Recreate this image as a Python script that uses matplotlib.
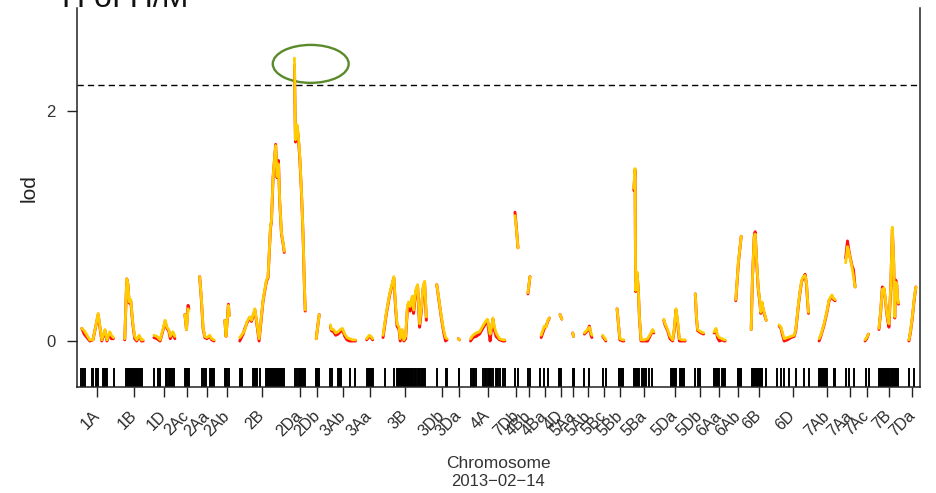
import numpy as np
import matplotlib
matplotlib.use("Agg")
import matplotlib.pyplot as plt
from matplotlib.patches import Ellipse
from matplotlib.transforms import blended_transform_factory

plt.rcParams['font.family'] = ['Liberation Sans', 'DejaVu Sans']

# ---- genome layout (cM) ----
chromosomes = ["1A", "1B", "1D", "2Ac", "2Aa", "2Ab", "2B", "2Da", "2Db", "3Ab",
               "3Aa", "3B", "3Db", "3Da", "4A", "7Db", "4Bb", "4Ba", "4D", "5Aa",
               "5Ab", "5Bc", "5Bb", "5Ba", "5Da", "5Db", "6Aa", "6Ab", "6B", "6D",
               "7Ab", "7Aa", "7Ac", "7B", "7Da"]
chrom_lengths = [82.5, 50, 52.5, 10, 40, 11.25, 112.5, 27.5, 10, 68.75,
                 15, 110, 26.25, 8.75, 86.25, 7.5, 5, 23.75, 6.25, 6.25,
                 18.75, 10, 20, 50, 53.75, 21.25, 28.75, 15, 37.5, 82.5,
                 40, 25, 8.75, 50, 18.75]
chrom_gap = 25.0
lod_threshold = 2.23

# ---- scan positions (cM within chromosome) ----
scan_pos = [
    [2, 8, 22, 30, 43, 52, 60, 65, 72, 76, 81],
    [2, 7, 10, 13, 17, 22, 27, 32, 38, 44, 48],
    [0, 7.5, 15.5, 22.5, 28, 32.5, 37, 41, 47.5, 52.5],
    [0, 4, 8, 10],
    [2, 6.5, 10.5, 15, 20, 27, 32, 38],
    [0, 3, 9, 11],
    [1, 9.5, 14, 19.5, 26, 30.5, 39, 43, 49.5, 59.5, 68, 72, 78, 80.5, 84.5, 91, 94.5, 98, 101, 105.5, 110, 112.5],
    [0.5, 3, 7, 10, 14, 18, 22, 25.5, 27.5],
    [2.5, 10],
    [3, 5.5, 11, 16, 22, 28, 33, 39, 44.5, 51, 59.5, 66],
    [0, 6.5, 11, 15],
    [1, 9, 17.5, 28, 32.5, 36, 41, 44, 49, 53, 57.5, 62, 65, 69, 74, 77.5, 82.5, 87.5, 92.5, 97.5, 101, 105, 109.5],
    [0.5, 6, 12, 17.5, 22.5, 26],
    [3, 6],
    [0, 6, 14, 22.5, 29, 37.5, 42.5, 46, 49, 52.5, 56, 60, 64, 72.5, 81, 86],
    [0, 3.5, 7.5],
    [0, 5],
    [3, 7, 11, 15.5, 19.5, 23.5],
    [1.5, 6],
    [2, 4],
    [0, 8, 12.5, 16.5, 18.75],
    [2, 10],
    [3, 10, 17, 20],
    [0, 3, 4.5, 8, 11, 14, 18, 26, 34.5, 43, 47, 50],
    [0, 3, 9.5, 15.5, 22, 26, 30.5, 34.5, 39, 45.5, 53.5],
    [0, 3, 6, 14, 21],
    [1, 5.5, 9.5, 14, 20.5, 26, 28.5],
    [1.5, 8, 15],
    [0, 3, 7.5, 10, 13, 17.5, 22, 24, 27, 30, 34, 37.5],
    [7.5, 12, 16, 20, 28, 37, 45, 49, 56, 60, 64, 68, 72.5, 76, 79, 81],
    [0, 4, 12.5, 19, 25, 32, 36, 40],
    [1.5, 6, 8, 12, 17, 21, 25],
    [0, 4, 8.5],
    [1, 5.5, 9.5, 14, 18, 22, 26, 30.5, 34.5, 38, 40.5, 43, 45.5, 48, 50],
    [1, 5.5, 9.5, 14, 18.5],
]

# ---- LOD, Haley-Knott regression (gold) ----
lod_hk = [
    [0.11, 0.09, 0.01, 0.01, 0.24, 0.01, 0.10, 0.01, 0.08, 0.05, 0.03],
    [0.02, 0.54, 0.50, 0.34, 0.36, 0.16, 0.04, 0.01, 0.05, 0.01, 0.01],
    [0.05, 0.04, 0.01, 0.10, 0.18, 0.12, 0.10, 0.04, 0.08, 0.04],
    [0.23, 0.10, 0.28, 0.27],
    [0.56, 0.36, 0.12, 0.04, 0.03, 0.05, 0.02, 0.01],
    [0.18, 0.04, 0.31, 0.22],
    [0.03, 0.07, 0.10, 0.17, 0.21, 0.18, 0.28, 0.18, 0.02, 0.36, 0.53, 0.56, 0.99, 1.05, 1.43, 1.70, 1.43, 1.54, 1.23, 0.94, 0.85, 0.78],
    [2.46, 1.75, 1.88, 1.80, 1.60, 1.31, 0.94, 0.47, 0.27],
    [0.02, 0.23],
    [0.14, 0.10, 0.10, 0.07, 0.08, 0.10, 0.11, 0.06, 0.03, 0.02, 0.01, 0.01],
    [0.02, 0.05, 0.04, 0.02],
    [0.05, 0.24, 0.41, 0.56, 0.30, 0.15, 0.12, 0.02, 0.10, 0.01, 0.04, 0.30, 0.34, 0.30, 0.39, 0.27, 0.44, 0.49, 0.15, 0.30, 0.47, 0.52, 0.21],
    [0.49, 0.36, 0.21, 0.10, 0.03, 0.02],
    [0.02, 0.01],
    [0.02, 0.05, 0.07, 0.08, 0.12, 0.17, 0.19, 0.12, 0.06, 0.12, 0.20, 0.12, 0.07, 0.02, 0.01, 0.01],
    [1.09, 0.98, 0.81],
    [0.42, 0.56],
    [0.05, 0.09, 0.13, 0.12, 0.18, 0.20],
    [0.23, 0.19],
    [0.07, 0.04],
    [0.07, 0.10, 0.12, 0.07, 0.05],
    [0.05, 0.01],
    [0.28, 0.02, 0.01, 0.01],
    [1.33, 1.50, 0.44, 0.60, 0.47, 0.21, 0.01, 0.01, 0.02, 0.07, 0.10, 0.08],
    [0.19, 0.15, 0.10, 0.04, 0.01, 0.10, 0.28, 0.18, 0.02, 0.01, 0.01],
    [0.41, 0.21, 0.10, 0.08, 0.07],
    [0.08, 0.11, 0.05, 0.03, 0.02, 0.01, 0.01],
    [0.36, 0.69, 0.91],
    [0.10, 0.53, 0.90, 0.93, 0.73, 0.47, 0.33, 0.25, 0.34, 0.28, 0.23, 0.18],
    [0.14, 0.12, 0.07, 0.02, 0.03, 0.04, 0.05, 0.10, 0.33, 0.44, 0.53, 0.56, 0.57, 0.50, 0.33, 0.25],
    [0.02, 0.05, 0.15, 0.25, 0.36, 0.40, 0.37, 0.36],
    [0.68, 0.82, 0.80, 0.73, 0.65, 0.56, 0.47],
    [0.01, 0.03, 0.06],
    [0.11, 0.27, 0.45, 0.46, 0.33, 0.21, 0.15, 0.47, 0.99, 0.68, 0.21, 0.51, 0.50, 0.36, 0.33],
    [0.01, 0.10, 0.21, 0.36, 0.47],
]

# ---- LOD, EM algorithm (red) ----
lod_em = [
    [0.11, 0.06, 0.00, 0.01, 0.23, 0.00, 0.09, 0.00, 0.07, 0.02, 0.02],
    [0.01, 0.54, 0.49, 0.33, 0.35, 0.15, 0.02, 0.00, 0.04, 0.00, 0.00],
    [0.03, 0.02, 0.00, 0.09, 0.17, 0.11, 0.09, 0.02, 0.07, 0.02],
    [0.23, 0.10, 0.31, 0.28],
    [0.56, 0.35, 0.11, 0.03, 0.02, 0.04, 0.01, 0.00],
    [0.18, 0.04, 0.32, 0.22],
    [0.00, 0.06, 0.11, 0.16, 0.20, 0.17, 0.27, 0.17, 0.00, 0.35, 0.52, 0.55, 0.98, 1.04, 1.42, 1.71, 1.42, 1.57, 1.22, 0.93, 0.84, 0.77],
    [2.40, 1.73, 1.86, 1.78, 1.58, 1.30, 0.93, 0.46, 0.26],
    [0.02, 0.23],
    [0.13, 0.09, 0.08, 0.05, 0.06, 0.08, 0.10, 0.04, 0.01, 0.00, 0.00, 0.00],
    [0.01, 0.04, 0.03, 0.01],
    [0.03, 0.23, 0.40, 0.55, 0.28, 0.13, 0.10, 0.00, 0.08, 0.00, 0.02, 0.28, 0.33, 0.26, 0.37, 0.24, 0.42, 0.48, 0.12, 0.28, 0.45, 0.51, 0.18],
    [0.49, 0.35, 0.20, 0.08, 0.00, 0.01],
    [0.02, 0.01],
    [0.00, 0.03, 0.04, 0.06, 0.10, 0.15, 0.18, 0.08, 0.00, 0.10, 0.19, 0.09, 0.04, 0.01, 0.00, 0.00],
    [1.12, 0.99, 0.81],
    [0.41, 0.56],
    [0.03, 0.07, 0.11, 0.13, 0.17, 0.20],
    [0.23, 0.19],
    [0.07, 0.04],
    [0.06, 0.09, 0.13, 0.05, 0.03],
    [0.04, 0.00],
    [0.28, 0.01, 0.00, 0.00],
    [1.31, 1.49, 0.43, 0.58, 0.46, 0.20, 0.00, 0.00, 0.00, 0.06, 0.09, 0.07],
    [0.18, 0.14, 0.09, 0.02, 0.00, 0.09, 0.27, 0.16, 0.00, 0.00, 0.00],
    [0.41, 0.20, 0.09, 0.07, 0.06],
    [0.07, 0.10, 0.03, 0.00, 0.01, 0.00, 0.00],
    [0.35, 0.68, 0.91],
    [0.10, 0.53, 0.91, 0.95, 0.72, 0.46, 0.32, 0.24, 0.33, 0.27, 0.22, 0.18],
    [0.13, 0.11, 0.05, 0.00, 0.01, 0.03, 0.04, 0.09, 0.32, 0.43, 0.52, 0.55, 0.58, 0.49, 0.32, 0.24],
    [0.00, 0.04, 0.14, 0.24, 0.35, 0.39, 0.36, 0.35],
    [0.72, 0.87, 0.82, 0.74, 0.66, 0.62, 0.47],
    [0.00, 0.02, 0.06],
    [0.10, 0.26, 0.47, 0.45, 0.32, 0.20, 0.12, 0.46, 0.97, 0.67, 0.20, 0.53, 0.49, 0.35, 0.32],
    [0.00, 0.09, 0.20, 0.35, 0.47],
]

# ---- genetic markers (cM within chromosome) ----
marker_pos = [
    [0, 4, 10, 28, 31, 37.5, 40, 42, 56, 58, 60, 62, 64, 82.5],
    [5, 7, 9, 11, 13, 15, 17, 19, 21, 23, 25, 27, 29, 31, 33, 35, 37, 39, 41, 43, 44],
    [0, 11, 15, 30, 31.5, 33, 38, 40, 42, 44, 46, 48, 50],
    [0, 2, 4, 6, 8, 10],
    [7, 12.5, 19, 29, 31, 33, 35, 37],
    [0, 2, 4, 6, 11],
    [1, 3, 5, 7.5, 34.5, 37, 39.5, 42, 44.5, 51, 68, 70, 72, 74, 76, 78, 81, 83, 85, 87, 89, 91,
     94, 96, 98, 100, 102, 104, 106, 108, 110, 112],
    [2, 7, 12, 15.5, 17.5, 19.5, 21.5, 23.5, 25.5, 27.5],
    [1, 3, 5, 7, 9.5],
    [1, 8, 22, 24, 26, 28, 30.5, 51, 64],
    [0, 3, 5, 7, 9, 11, 13, 15],
    [5, 28, 36, 38, 40, 42, 44, 46, 48, 50, 52, 54, 56, 58, 60, 62, 64, 66, 68, 70, 72, 74, 76,
     80, 82, 84, 88, 90, 92, 96, 98, 100, 104, 106.5],
    [0, 24, 26],
    [4, 6],
    [2, 5, 9, 12.5, 31, 35, 39, 43, 46, 49, 52, 56, 62.5, 65, 68, 74, 81, 86],
    [1, 7.5],
    [0, 4],
    [0.5, 11, 19.5],
    [0, 2, 4],
    [2, 4, 6],
    [0, 12.5],
    [2, 10],
    [7, 9, 11, 13, 15, 17, 19],
    [1, 3, 5, 7, 9, 11, 13.5, 20.5, 26, 30.5, 39, 45.5],
    [18, 20, 22, 24, 26, 28, 30.5, 41, 43, 45, 47, 49, 51],
    [0, 6, 12],
    [0, 2, 4, 6, 8, 10, 12, 20.5, 22.5, 24.5, 26.5, 28.5],
    [6, 8, 10, 12, 14, 15],
    [2, 4, 6, 8, 10, 12, 14, 16, 18, 20, 22, 24, 26, 28, 37],
    [3, 12, 20, 31, 49, 70, 81],
    [0, 2, 4, 6, 8, 10, 12, 14, 16, 18, 20.5, 36, 38, 40],
    [2, 10, 22.5],
    [2, 8.75],
    [1, 3, 5, 7, 9, 11, 13, 15, 17, 19, 21, 23, 25, 27, 31, 33, 35, 37, 39, 41, 43, 45, 47, 49],
    [1, 14],
]

# ---- figure ----
W, H = 936, 493
fig = plt.figure(figsize=(W / 100, H / 100), dpi=100)
ax = fig.add_axes([77 / W, 1 - 387 / H, (920 - 77) / W, (387 - 8) / H])

lengths = np.array(chrom_lengths, dtype=float)
offsets = np.concatenate([[0.0], np.cumsum(lengths[:-1] + chrom_gap)])
total = offsets[-1] + lengths[-1]

ax.set_xlim(-chrom_gap * 0.4, total + chrom_gap * 0.4)
ax.set_ylim(-0.40, 2.896)

line_kw = dict(solid_capstyle='round', solid_joinstyle='round')
for off, pos, lod in zip(offsets, scan_pos, lod_em):
    ax.plot(off + np.asarray(pos), lod, color='#ff1010', lw=2.1, **line_kw)
for off, pos, lod in zip(offsets, scan_pos, lod_hk):
    ax.plot(off + np.asarray(pos), lod, color='#ffcc00', lw=2.0, **line_kw)

# marker rug along the bottom
rug_trans = blended_transform_factory(ax.transData, ax.transAxes)
for off, pos in zip(offsets, marker_pos):
    ax.vlines(off + np.asarray(pos), 0, 19 / 379, transform=rug_trans,
              color='black', lw=1.4)

# significance threshold
ax.axhline(lod_threshold, color='black', lw=1.0, ls=(0, (4.5, 3)))

# highlight of the genome-wide peak
ell = Ellipse((575, 2.41), width=190, height=0.33, fill=False,
              edgecolor='#5b8a2b', lw=1.7, clip_on=False)
ax.add_patch(ell)

# axes styling
for side in ('left', 'right', 'bottom'):
    ax.spines[side].set_linewidth(1.1)
    ax.spines[side].set_color('#222222')
ax.spines['top'].set_visible(False)

ax.set_yticks([0, 2])
ax.set_yticklabels(['0', '2'], fontsize=12, color='#333333')
ax.tick_params(axis='y', length=7.5, width=1.0, pad=8, color='#222222')

ax.set_xticks(offsets + lengths / 2)
ax.set_xticklabels(chromosomes, rotation=45, ha='right', va='center',
                   rotation_mode='anchor', fontsize=11.5, color='#2a2a2a')
ax.tick_params(axis='x', length=7, width=1.0, pad=12, color='#222222')

fig.text(29 / W, 1 - 188 / H, 'lod', rotation=90, ha='center', va='center',
         fontsize=15, color='#222222')
fig.text(498 / W, 1 - 463 / H, 'Chromosome', ha='center', va='center',
         fontsize=12.5, color='#333333')
fig.text(498 / W, 1 - 481 / H, '2013\u221202\u221214', ha='center', va='center',
         fontsize=12, color='#333333')

fig.text(62 / W, 1 - 7 / H, 'H of H/M', ha='left', va='baseline',
         fontsize=23, color='#111111')

fig.savefig('out.png', dpi=100, facecolor='white')
